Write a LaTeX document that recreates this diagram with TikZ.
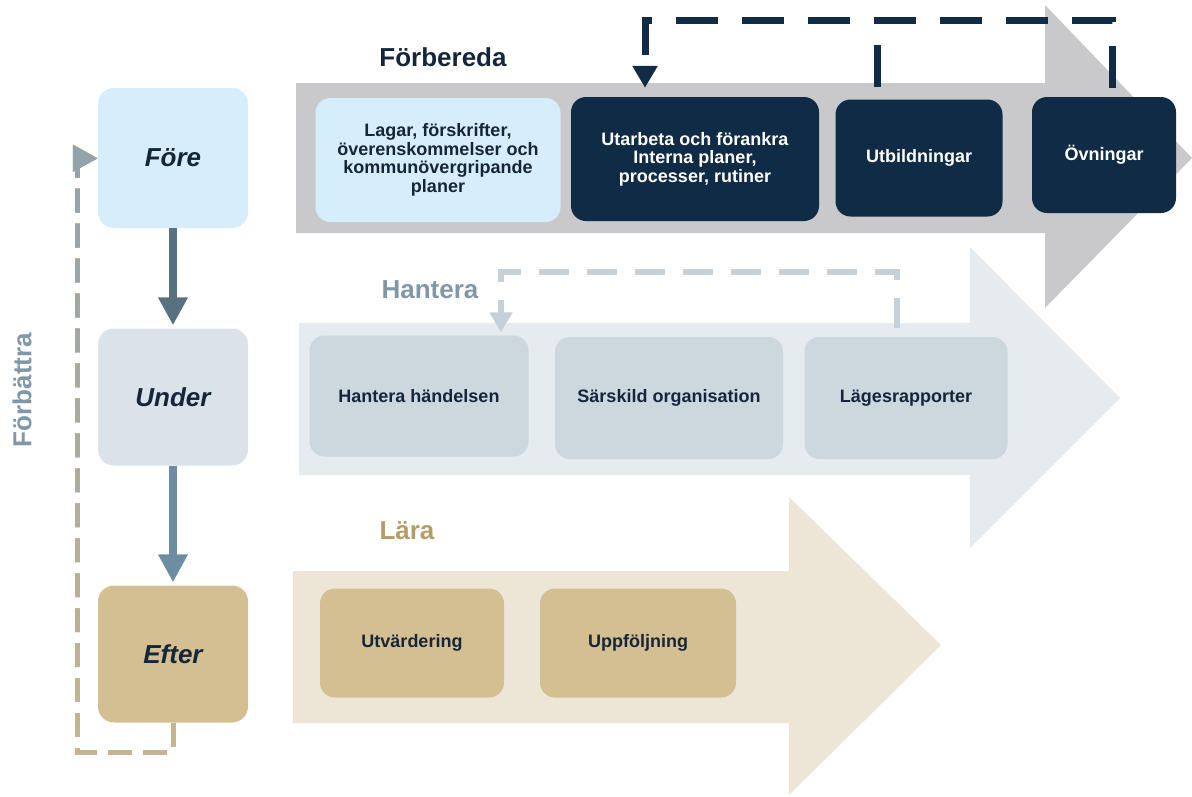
\documentclass[tikz,border=0pt]{standalone}
\usepackage{fontspec}
\setmainfont{Liberation Sans}
\usetikzlibrary{arrows.meta,fadings}
\definecolor{navy}{HTML}{0F2B45}
\definecolor{inktext}{HTML}{16263A}
\definecolor{forearrow}{HTML}{C9C9CB}
\definecolor{forebox}{HTML}{D6EEFB}
\definecolor{midarrow}{HTML}{E5EBEF}
\definecolor{midbox}{HTML}{CCD7DE}
\definecolor{middash}{HTML}{C5D0D8}
\definecolor{midtitle}{HTML}{7F97A6}
\definecolor{lowarrow}{HTML}{EDE6D7}
\definecolor{lowbox}{HTML}{D4BF93}
\definecolor{lowtitle}{HTML}{B59C65}
\definecolor{underbox}{HTML}{DAE2EA}
\definecolor{stepone}{HTML}{587181}
\definecolor{steptwo}{HTML}{6D8DA2}
\definecolor{loopdash}{HTML}{93A3AC}
\definecolor{loopbeige}{HTML}{C6B68F}
\tikzfading[name=loopfade, top color=transparent!0, bottom color=transparent!100]
\tikzset{
	phase/.style={rounded corners=16pt, minimum width=150pt, inner sep=0pt, text=inktext, font=\bfseries\itshape\fontsize{26}{30}\selectfont},
	task/.style={rounded corners=15pt, align=center, inner sep=0pt, text=inktext, font=\bfseries\fontsize{18}{18.5}\selectfont},
	title/.style={font=\bfseries\fontsize{26}{30}\selectfont},
	navydash/.style={draw=navy, line width=7pt, dash pattern=on 42pt off 24pt},
	lightdash/.style={draw=middash, line width=6pt, dash pattern=on 30pt off 18pt},
	loopline/.style={line width=5pt, dash pattern=on 24pt off 11pt},
	flow/.style={line width=8pt, -{Triangle[width=28pt,length=28pt]}, shorten >=3pt}
}

\begin{document}
\begin{tikzpicture}[x=1pt,y=-1pt]
	%%%%% START %%%%%
	\useasboundingbox (0,0) rectangle (1192,796);
	
	% big arrows
	\fill[forearrow] (296,83) -- (1045,83) -- (1045,5) -- (1192,158) -- (1045,308) -- (1045,233) -- (296,233) -- cycle;
	\fill[midarrow] (299,323) -- (970,323) -- (970,247) -- (1120,398) -- (970,548) -- (970,475) -- (299,475) -- cycle;
	\fill[lowarrow] (293,571) -- (789,571) -- (789,497) -- (941,645) -- (789,795) -- (789,723) -- (293,723) -- cycle;
	
	% titles
	\node[title, text=inktext] (forbereda) at (443,57) {Förbereda};
	\node[title, text=midtitle] (hantera) at (430,290) {Hantera};
	\node[title, text=lowtitle] (lara) at (407,531) {Lära};
	\node[title, text=midtitle, rotate=90] (forbattra) at (22,390) {Förbättra};
	
	% phases
	\node[phase, fill=forebox, minimum height=140pt] (fore) at (173,158) {Före};
	\node[phase, fill=underbox, minimum height=137pt] (under) at (173,397) {Under};
	\node[phase, fill=lowbox, minimum height=137pt] (efter) at (173,654) {Efter};
	
	% tasks
	\node[task, fill=forebox, minimum width=245pt, minimum height=124pt] (lagar) at (438,160) {Lagar, förskrifter,\\överenskommelser och\\kommunövergripande\\planer};
	\node[task, fill=navy, text=white, minimum width=248pt, minimum height=124pt] (utarb) at (695,159) {Utarbeta och förankra\\Interna planer,\\processer, rutiner};
	\node[task, fill=navy, text=white, minimum width=167pt, minimum height=117pt] (utb) at (919,158) {Utbildningar};
	\node[task, fill=navy, text=white, minimum width=144pt, minimum height=116pt] (ovn) at (1104,155) {Övningar};
	
	\node[task, fill=midbox, minimum width=219pt, minimum height=121pt] (hand) at (419,396) {Hantera händelsen};
	\node[task, fill=midbox, minimum width=228pt, minimum height=122pt] (sars) at (669,398) {Särskild organisation};
	\node[task, fill=midbox, minimum width=203pt, minimum height=122pt] (lages) at (906,398) {Lägesrapporter};
	
	\node[task, fill=lowbox, minimum width=184pt, minimum height=109pt] (utv) at (412,643) {Utvärdering};
	\node[task, fill=lowbox, minimum width=196pt, minimum height=109pt] (uppf) at (638,643) {Uppföljning};
	
	% flow between phases
	\draw[flow, draw=stepone, color=stepone] (fore.south) -- (under.north);
	\draw[flow, draw=steptwo, color=steptwo] (under.south) -- (efter.north);
	
	% feedback loops
	\coordinate (topline) at (0,20);
	\coordinate (midline) at (0,272);
	\coordinate (loop) at (77,752);
	
	\draw[navydash, -{Triangle[width=24pt,length=22pt]}, shorten <=9pt, shorten >=9pt] ([xshift=8pt]ovn.north) -- ([xshift=8pt]ovn.north |- topline) -| ([xshift=-50pt]utarb.north);
	\draw[navydash, shorten <=12pt] ([xshift=-42pt]utb.north) -- ([xshift=-42pt]utb.north |- topline);
	
	\draw[lightdash, color=middash, -{Triangle[width=22pt,length=20pt]}, shorten <=9pt, shorten >=3pt] ([xshift=-9pt]lages.north) -- ([xshift=-9pt]lages.north |- midline) -| ([xshift=82pt]hand.north);
	
	\draw[loopline, draw=loopbeige, color=loopbeige, -{Triangle[width=26pt,length=25pt]}] (efter.south) |- (loop) |- (fore.west);
	\draw[loopline, draw=loopdash, color=loopdash, path fading=loopfade, -{Triangle[width=26pt,length=25pt]}] (efter.south) |- (loop) |- (fore.west);
	
	%%%%% END %%%%%
\end{tikzpicture}
\end{document}
